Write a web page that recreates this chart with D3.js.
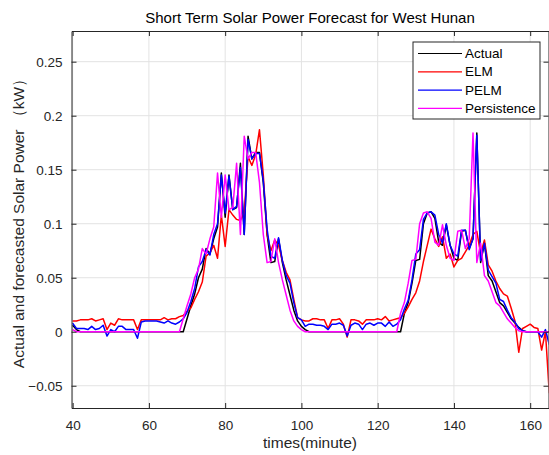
<!DOCTYPE html>
<html>
<head>
<title>Short Term Solar Power Forecast for West Hunan</title>
<script src="https://d3js.org/d3.v7.min.js"></script>
<style>
  body { margin: 0; background: #fff; }
  text { font-family: "Liberation Sans", Arial, sans-serif; fill: #262626; }
</style>
</head>
<body>
<div id="chart"></div>
<script>
// time in minutes, one sample per minute
const startMinute = 40;
const actual = [
  0.006, 0.002, 0, 0, 0, 0, 0, 0, 0, 0, 0, 0, 0, 0, 0, 0, 0, 0, 0, 0,
  0, 0, 0, 0, 0, 0, 0, 0, 0, 0,
  0.012, 0.024, 0.035, 0.05, 0.058, 0.077, 0.072, 0.086, 0.097, 0.147,
  0.106, 0.145, 0.113, 0.115, 0.156, 0.09, 0.181, 0.16, 0.166, 0.166,
  0.138, 0.09, 0.064, 0.065, 0.086, 0.064, 0.048, 0.034, 0.02, 0.01,
  0.005, 0.002,
  0, 0, 0, 0, 0, 0, 0, 0, 0, 0, 0, 0, 0, 0, 0, 0, 0, 0, 0, 0, 0, 0, 0, 0,
  0, 0.017, 0.027, 0.045, 0.066, 0.067, 0.1, 0.11, 0.111, 0.105,
  0.083, 0.08, 0.099, 0.08, 0.068, 0.066, 0.093, 0.094, 0.077, 0.086,
  0.184, 0.064, 0.082, 0.052, 0.047, 0.037, 0.027, 0.024, 0.018, 0.012,
  0.008, 0.004, 0.001, 0, 0, 0, 0, 0, 0, 0
];
const elm = [
  0.01, 0.01, 0.011, 0.011, 0.011, 0.012, 0.01, 0.011, 0.012, 0.002,
  0.008, 0.006, 0.012, 0.011, 0.011, 0.011, 0.011, 0.002, 0.011, 0.011,
  0.011, 0.011, 0.011, 0.011, 0.013, 0.011, 0.012, 0.012, 0.014, 0.015,
  0.019, 0.022, 0.03, 0.037, 0.046, 0.07, 0.073, 0.08, 0.068, 0.108,
  0.079, 0.113, 0.108, 0.104, 0.103, 0.11, 0.162, 0.154, 0.164, 0.187,
  0.145, 0.09, 0.075, 0.085, 0.08, 0.066, 0.055, 0.048, 0.03, 0.013,
  0.011, 0.01,
  0.01, 0.012, 0.012, 0.011, 0.011, 0.003, 0.011, 0.011, 0.012, 0.007,
  -0.005, 0.011, 0.011, 0.01, 0.007, 0.011, 0.011, 0.011, 0.012, 0.011,
  0.014, 0.01, 0.011, 0.012,
  0.013, 0.017, 0.023, 0.03, 0.036, 0.047, 0.065, 0.08, 0.095, 0.086,
  0.079, 0.088, 0.068, 0.072, 0.06, 0.066, 0.068, 0.074, 0.08, 0.09,
  0.093, 0.072, 0.085, 0.062, 0.056, 0.047, 0.04, 0.035, 0.033, 0.022,
  0.01, -0.019, 0.003, 0.005, 0.007, 0.004, 0.003, -0.017, 0.0, -0.057
];
const pelm = [
  0.008, 0.003, 0.003, 0.003, 0.002, 0.005, 0.002, 0.003, 0.006, -0.004,
  0.002, 0.0, 0.005, 0.005, 0.002, 0.002, 0.002, -0.006, 0.009, 0.01,
  0.01, 0.01, 0.01, 0.009, 0.008, 0.01, 0.008, 0.007, 0.009, 0.012,
  0.018, 0.028, 0.04, 0.06, 0.065, 0.076, 0.071, 0.09, 0.1, 0.145,
  0.11, 0.144, 0.113, 0.116, 0.152, 0.09, 0.178, 0.16, 0.165, 0.165,
  0.14, 0.095, 0.07, 0.068, 0.087, 0.066, 0.052, 0.045, 0.027, 0.013,
  0.011, 0.005,
  0.007, 0.007, 0.006, 0.006, 0.005, 0.002, 0.007, 0.007, 0.008, 0.006,
  -0.004, 0.006, 0.008, 0.007, 0.002, 0.007, 0.008, 0.006, 0.008, 0.008,
  0.005, 0.009, 0.005, 0.007,
  0.011, 0.021, 0.029, 0.048, 0.072, 0.076, 0.104, 0.11, 0.111, 0.108,
  0.09, 0.082, 0.1, 0.08, 0.072, 0.07, 0.094, 0.094, 0.076, 0.086,
  0.182, 0.066, 0.082, 0.057, 0.051, 0.045, 0.03, 0.028, 0.02, 0.013,
  0.009, 0.003, 0.001, 0, 0, 0, 0, -0.005, 0.002, -0.012
];
const persistence = [
  0.002, 0, 0, 0, 0, 0, 0, 0, 0, 0, 0, 0, 0, 0, 0, 0, 0, 0, 0, 0,
  0, 0, 0, 0, 0, 0, 0, 0, 0,
  0.012, 0.024, 0.035, 0.05, 0.058, 0.077, 0.072, 0.086, 0.097, 0.147,
  0.106, 0.145, 0.113, 0.115, 0.156, 0.09, 0.181, 0.16, 0.166, 0.166,
  0.138, 0.09, 0.064, 0.065, 0.086, 0.064, 0.048, 0.034, 0.02, 0.01,
  0.005, 0.002,
  0, 0, 0, 0, 0, 0, 0, 0, 0, 0, 0, 0, 0, 0, 0, 0, 0, 0, 0, 0, 0, 0, 0, 0, 0,
  0.017, 0.027, 0.045, 0.066, 0.067, 0.1, 0.11, 0.111, 0.105,
  0.083, 0.08, 0.099, 0.08, 0.068, 0.066, 0.093, 0.094, 0.077, 0.086,
  0.184, 0.064, 0.082, 0.052, 0.047, 0.037, 0.027, 0.024, 0.018, 0.012,
  0.008, 0.004, 0.001, 0, 0, 0, 0, 0, 0, 0, 0
];
const xTicks = [40, 60, 80, 100, 120, 140, 160];
const yTicks = [-0.05, 0, 0.05, 0.1, 0.15, 0.2, 0.25];
const seriesNames = ["Actual", "ELM", "PELM", "Persistence"];
const seriesColors = ["#000000", "#ff0000", "#0000ff", "#ff00ff"];
const seriesValues = [actual, elm, pelm, persistence];

const W = 549, H = 455;
const margin = { top: 31, right: 0.5, bottom: 47, left: 71.5 };
const width = W - margin.left - margin.right;
const height = H - margin.top - margin.bottom;

const svg = d3.select("#chart").append("svg")
  .attr("width", W)
  .attr("height", H);

const g = svg.append("g")
  .attr("transform", "translate(" + margin.left + "," + margin.top + ")");

const x = d3.scaleLinear().domain([39.7, 164.8]).range([0, width]);
const y = d3.scaleLinear().domain([-0.0706, 0.2784]).range([height, 0]);

// grid
g.append("g").selectAll("line").data(xTicks).enter().append("line")
  .attr("x1", d => x(d)).attr("x2", d => x(d))
  .attr("y1", 0).attr("y2", height)
  .attr("stroke", "#e3e3e3").attr("stroke-width", 1);
g.append("g").selectAll("line").data(yTicks).enter().append("line")
  .attr("x1", 0).attr("x2", width)
  .attr("y1", d => y(d)).attr("y2", d => y(d))
  .attr("stroke", "#e3e3e3").attr("stroke-width", 1);

// lines
g.append("clipPath").attr("id", "clip").append("rect")
  .attr("width", width).attr("height", height);

const line = d3.line()
  .x((d, i) => x(startMinute + i))
  .y(d => y(d));

seriesValues.forEach((vals, k) => {
  g.append("path")
    .datum(vals)
    .attr("clip-path", "url(#clip)")
    .attr("fill", "none")
    .attr("stroke", seriesColors[k])
    .attr("stroke-width", 1.5)
    .attr("stroke-linejoin", "round")
    .attr("d", line);
});

// axes (box with inward ticks)
const tickLen = 5;
const axisColor = "#262626";

const xAxis = g.append("g").attr("transform", "translate(0," + height + ")")
  .call(d3.axisBottom(x).tickValues(xTicks).tickSizeInner(-tickLen).tickSizeOuter(0).tickPadding(12));
const xTop = g.append("g")
  .call(d3.axisTop(x).tickValues(xTicks).tickSizeInner(-tickLen).tickSizeOuter(0).tickFormat(""));
const yAxis = g.append("g")
  .call(d3.axisLeft(y).tickValues(yTicks).tickSizeInner(-tickLen).tickSizeOuter(0).tickPadding(9)
    .tickFormat(d => d3.format("")(+d.toFixed(2))));
const yRight = g.append("g").attr("transform", "translate(" + width + ",0)")
  .call(d3.axisRight(y).tickValues(yTicks).tickSizeInner(-tickLen).tickSizeOuter(0).tickFormat(""));

[xAxis, xTop, yAxis, yRight].forEach(a => {
  a.selectAll("path").attr("stroke", axisColor);
  a.selectAll("line").attr("stroke", axisColor);
  a.selectAll("text").style("font-size", "13.5px").style("fill", axisColor)
    .style("font-family", "'Liberation Sans', Arial, sans-serif");
});

// title and labels
svg.append("text")
  .attr("x", margin.left + width / 2)
  .attr("y", 23)
  .attr("text-anchor", "middle")
  .style("font-size", "15px")
  .style("fill", "#000")
  .text("Short Term Solar Power Forecast for West Hunan");

svg.append("text")
  .attr("x", margin.left + width / 2)
  .attr("y", 448)
  .attr("text-anchor", "middle")
  .style("font-size", "15.5px")
  .text("times(minute)");

svg.append("text")
  .attr("transform", "translate(24," + (margin.top + height / 2) + ") rotate(-90)")
  .attr("text-anchor", "middle")
  .style("font-size", "15.5px")
  .text("Actual and forecasted Solar Power （kW）");

// legend
const legend = svg.append("g").attr("transform", "translate(413,42)");
legend.append("rect")
  .attr("width", 127).attr("height", 77)
  .attr("fill", "#fff").attr("stroke", axisColor).attr("stroke-width", 1);
seriesNames.forEach((name, k) => {
  const yy = 11.5 + k * 18.3;
  legend.append("line")
    .attr("x1", 5).attr("x2", 49)
    .attr("y1", yy).attr("y2", yy)
    .attr("stroke", seriesColors[k]).attr("stroke-width", 1.2);
  legend.append("text")
    .attr("x", 52).attr("y", yy + 4.5)
    .style("font-size", "13.5px")
    .style("fill", "#000")
    .text(name);
});
</script>
</body>
</html>
